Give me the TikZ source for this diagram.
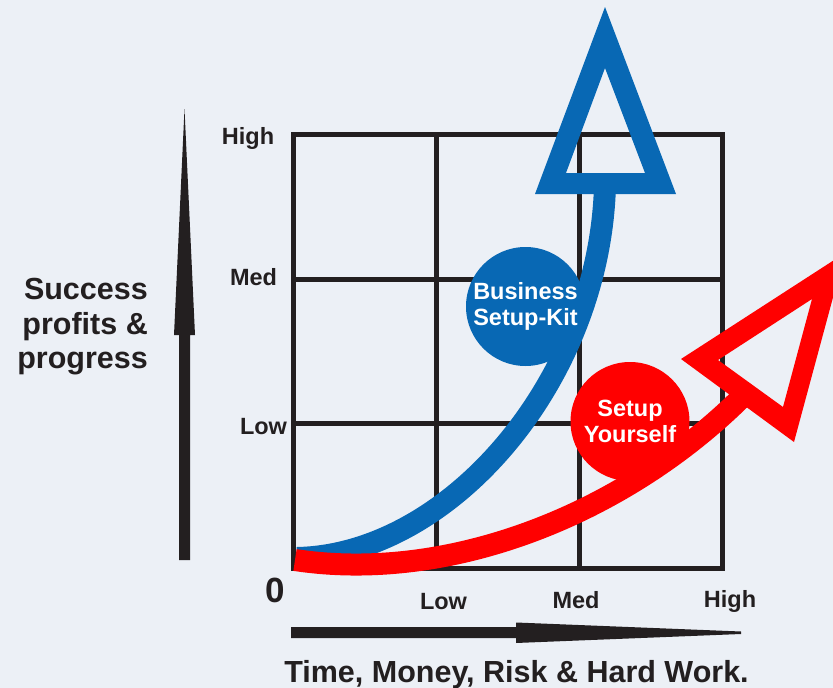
\documentclass[tikz,border=0pt]{standalone}
\usepackage{fontspec}
\setmainfont{Liberation Sans}
\definecolor{bgcol}{RGB}{236,240,246}
\definecolor{ink}{RGB}{35,31,32}
\definecolor{kitblue}{RGB}{8,104,180}
\definecolor{selfred}{RGB}{255,0,0}
\tikzset{
  gridline/.style={draw=ink, line width=5pt},
  ticklabel/.style={font=\bfseries\fontsize{23.5}{27}\selectfont, text=ink, inner sep=0pt, anchor=base},
  axistitle/.style={font=\bfseries\fontsize{30.5}{34.5}\selectfont, text=ink, inner sep=0pt},
  bubble/.style={circle, minimum size=119pt, inner sep=0pt, text=white, align=center,
    font=\bfseries\fontsize{23.5}{26.5}\selectfont},
  trend/.style={line width=22pt},
}
\begin{document}
\begin{tikzpicture}[x=1pt, y=-1pt]
    \fill[bgcol] (0,0) rectangle (833,688);
    \useasboundingbox (0,0) rectangle (833,688);
    \clip (0,0) rectangle (833,688);

    \draw[gridline] (293,134) rectangle (722,568);
    \foreach \gx in {436,579} \draw[gridline] (\gx,134) -- (\gx,568);
    \foreach \gy in {279,423} \draw[gridline] (293,\gy) -- (722,\gy);

    \fill[ink] (179,560) -- (179,335) -- (174,335) -- (184.5,109) -- (195,335) -- (190,335) -- (190,560) -- cycle;
    \fill[ink] (291,627) -- (516,627) -- (516,622.5) -- (741,631.5) -- (741,634) -- (516,643) -- (516,638) -- (291,638) -- cycle;

    \node[ticklabel] (y high) at (248,144) {High};
    \node[ticklabel] (y med) at (253.5,285) {Med};
    \node[ticklabel] (y low) at (263.5,434) {Low};
    \node[ticklabel] (x low) at (443.5,609) {Low};
    \node[ticklabel] (x med) at (576,608) {Med};
    \node[ticklabel] (x high) at (730,607) {High};
    \node[ticklabel, font=\bfseries\fontsize{35}{40}\selectfont] (origin) at (275.5,602) {0};
    \node[axistitle, anchor=base] (x title) at (516.5,682) {Time, Money, Risk \& Hard Work.};
    \node[axistitle, anchor=east, align=right] (y title) at (148,327) {Success\\profits \&\\progress};

    \coordinate (kit start) at (297,558);
    \coordinate (kit end) at (605,185);
    \draw[trend, kitblue] (kit start) .. controls (450,555) and (600,380) .. (kit end);
    \fill[kitblue, even odd rule] (605,7) -- (535,194) -- (676,194) -- cycle
      (605,68) -- (566,173) -- (645,173) -- cycle;

    \coordinate (self start) at (295,560);
    \coordinate (self end) at (744,395);
    \draw[trend, selfred] (self start) .. controls (446,583) and (622,517) .. (self end);
    \fill[selfred, even odd rule] (681,359) -- (794,442) -- (845,253) -- cycle
      (718,360) -- (783,407) -- (812,299) -- cycle;

    \node[bubble, fill=kitblue] (kit) at (525.5,306.5) {Business\\Setup-Kit};
    \node[bubble, fill=selfred] (self) at (630,421.5) {Setup\\Yourself};
  \end{tikzpicture}
\end{document}
